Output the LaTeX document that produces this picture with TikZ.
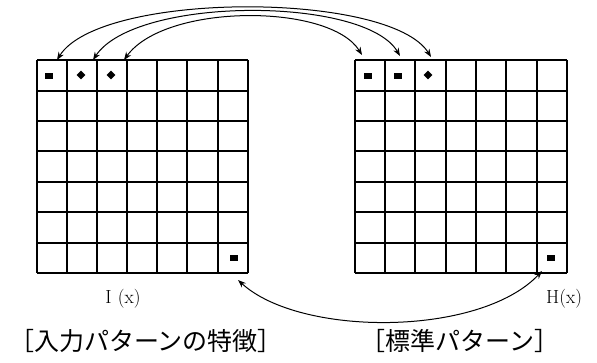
\documentclass[tikz,border=0pt]{standalone}
\usepackage{fontspec}
\newfontfamily\jp{Noto Sans CJK JP}
\usetikzlibrary{arrows.meta,shapes.geometric}
\begin{document}
\begin{tikzpicture}[x=1pt,y=-1pt,
  gl/.style={line width=1.4pt},
  arc/.style={line width=1pt,{Stealth[length=8pt,width=6pt]}-{Stealth[length=8pt,width=6pt]}},
  dashmark/.style={rectangle,fill=black,inner sep=0pt,minimum width=8pt,minimum height=6pt},
  dotmark/.style={diamond,fill=black,inner sep=0pt,minimum size=9pt},
  jplabel/.style={font=\jp\fontsize{25}{28}\selectfont,inner sep=0pt},
  latlabel/.style={font=\fontsize{19}{22}\selectfont,inner sep=0pt}]
\useasboundingbox (0,0) rectangle (597,363);
% left grid
\foreach \x in {37,67,97,127,157,187,218,248}
  \draw[gl] (\x,60) -- (\x,273);
\foreach \y in {60,91,121,151,182,212,243,273}
  \draw[gl] (37,\y) -- (248,\y);
% right grid
\foreach \x in {355,385,415,446,476,506,537,567}
  \draw[gl] (\x,60) -- (\x,273);
\foreach \y in {60,91,121,151,182,212,243,273}
  \draw[gl] (355,\y) -- (567,\y);
% markers
\node[dashmark] (la) at (49,76) {};
\node[dotmark] (lb) at (81,75) {};
\node[dotmark] (lc) at (111,75) {};
\node[dashmark] (ld) at (234,258) {};
\node[dashmark] (ra) at (368,76) {};
\node[dashmark] (rb) at (398,76) {};
\node[dotmark] (rc) at (428,75) {};
\node[dashmark] (rd) at (551,258) {};
% arrow end points
\coordinate (L0) at (57,60);
\coordinate (L1) at (93,60);
\coordinate (L2) at (124,60);
\coordinate (R0) at (362,55);
\coordinate (R1) at (400,56);
\coordinate (R2) at (431,57);
\coordinate (LB) at (238,280);
\coordinate (RB) at (542,271);
% arcs
\draw[arc] (L0) .. controls (100,-9) and (390,-9) .. (R2);
\draw[arc] (L1) .. controls (135,-4) and (365,-4) .. (R1);
\draw[arc] (L2) .. controls (165,3) and (330,3) .. (R0);
\draw[arc] (LB) .. controls (300,337) and (480,337) .. (RB);
% labels
\node[latlabel] (ix) at (123,299) {I\,\,(x)};
\node[latlabel,anchor=west] (hx) at (546,299) {H(x)};
\node[jplabel] (t1) at (146,341) {［入力パターンの特徴］};
\node[jplabel] (t2) at (460,341) {［標準パターン］};
\end{tikzpicture}
\end{document}
